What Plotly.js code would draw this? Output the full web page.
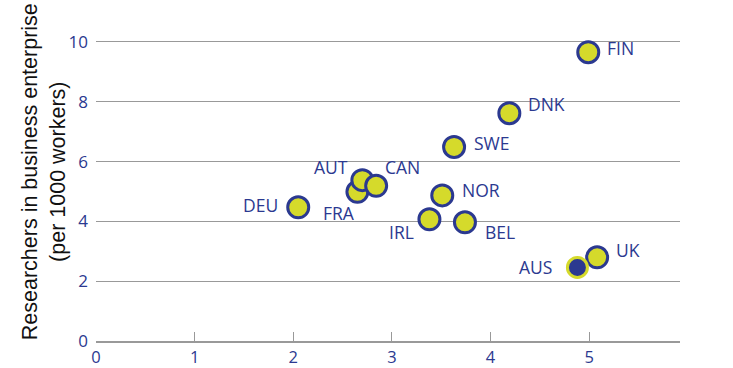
<!DOCTYPE html>
<html>
<head>
<meta charset="utf-8">
<script src="https://cdn.plot.ly/plotly-3.0.1.min.js"></script>
<style>html,body{margin:0;padding:0;background:#fff;}#chart{width:733px;height:368px;}</style>
</head>
<body>
<div id="chart"></div>
<script>
// Data
const countries = ["DEU","FRA","AUT","CAN","IRL","NOR","BEL","SWE","DNK","FIN","UK","AUS"];
const xValues   = [2.05, 2.65, 2.70, 2.84, 3.38, 3.51, 3.74, 3.63, 4.19, 4.99, 5.08, 4.88];
const yValues   = [4.47, 4.99, 5.38, 5.19, 4.07, 4.87, 3.97, 6.49, 7.62, 9.66, 2.80, 2.46];
const highlighted = ["AUS"];
const xTicks = [0, 1, 2, 3, 4, 5];
const yTicks = [0, 2, 4, 6, 8, 10];
const yTitle = "Researchers in business enterprise<br>(per 1000 workers)";

// label placement (style only): [xanchor, xshift, yshift]
const labelPos = {
  DEU: ["right", -18, 2], FRA: ["right", 0, -21], AUT: ["right", -12, 13], CAN: ["left", 7, 19],
  IRL: ["right", -13, -13], NOR: ["left", 18, 5], BEL: ["left", 18, -10], SWE: ["left", 18, 4],
  DNK: ["left", 17, 9], FIN: ["left", 17, 4], UK: ["left", 17, 7], AUS: ["right", -23, 0]
};

const BLUE = "#2b3990", YELLOW = "#d5da2b";
const normIdx = countries.map((c, i) => i).filter(i => !highlighted.includes(countries[i]));
const hiIdx = countries.map((c, i) => i).filter(i => highlighted.includes(countries[i]));

const traces = [
  { type: "scatter", mode: "markers",
    x: normIdx.map(i => xValues[i]), y: normIdx.map(i => yValues[i]),
    marker: { size: 21, color: YELLOW, line: { color: BLUE, width: 3 } }, hoverinfo: "skip" },
  { type: "scatter", mode: "markers",
    x: hiIdx.map(i => xValues[i]), y: hiIdx.map(i => yValues[i]),
    marker: { size: 20, color: BLUE, line: { color: YELLOW, width: 3 } }, hoverinfo: "skip" }
];

const annotations = countries.map((c, i) => ({
  x: xValues[i], y: yValues[i], xref: "x", yref: "y", text: c, showarrow: false,
  xanchor: labelPos[c][0], yanchor: "middle", xshift: labelPos[c][1], yshift: labelPos[c][2],
  font: { family: "Open Sans", size: 17.5, color: BLUE }
}));
annotations.push({
  xref: "paper", yref: "paper", x: -0.089, y: 0.51, text: yTitle, showarrow: false,
  textangle: -90, xanchor: "center", yanchor: "middle",
  font: { family: "Liberation Sans", size: 21.5, color: "#111" }
});

const layout = {
  width: 733, height: 368,
  margin: { l: 96, r: 53, t: 10, b: 27 },
  paper_bgcolor: "#fff", plot_bgcolor: "#fff",
  showlegend: false,
  font: { family: "Open Sans", color: BLUE },
  xaxis: {
    range: [0, 5.92], tickvals: xTicks, ticktext: xTicks.map(String),
    showgrid: false, zeroline: false, showline: true, linecolor: "#999", linewidth: 1.5,
    ticks: "inside", ticklen: 9, tickcolor: "#999", tickwidth: 1, ticklabelstandoff: 1,
    tickfont: { family: "Open Sans", size: 16.5, color: BLUE }, fixedrange: true
  },
  yaxis: {
    range: [0, 11.07], tickvals: yTicks, ticktext: yTicks.map(String),
    showgrid: true, gridcolor: "#999", gridwidth: 1, zeroline: false, showline: false,
    ticks: "", ticklabelstandoff: 7,
    tickfont: { family: "Open Sans", size: 17, color: BLUE }, fixedrange: true
  },
  annotations: annotations
};

Plotly.newPlot("chart", traces, layout, { displayModeBar: false, staticPlot: true });
</script>
</body>
</html>
